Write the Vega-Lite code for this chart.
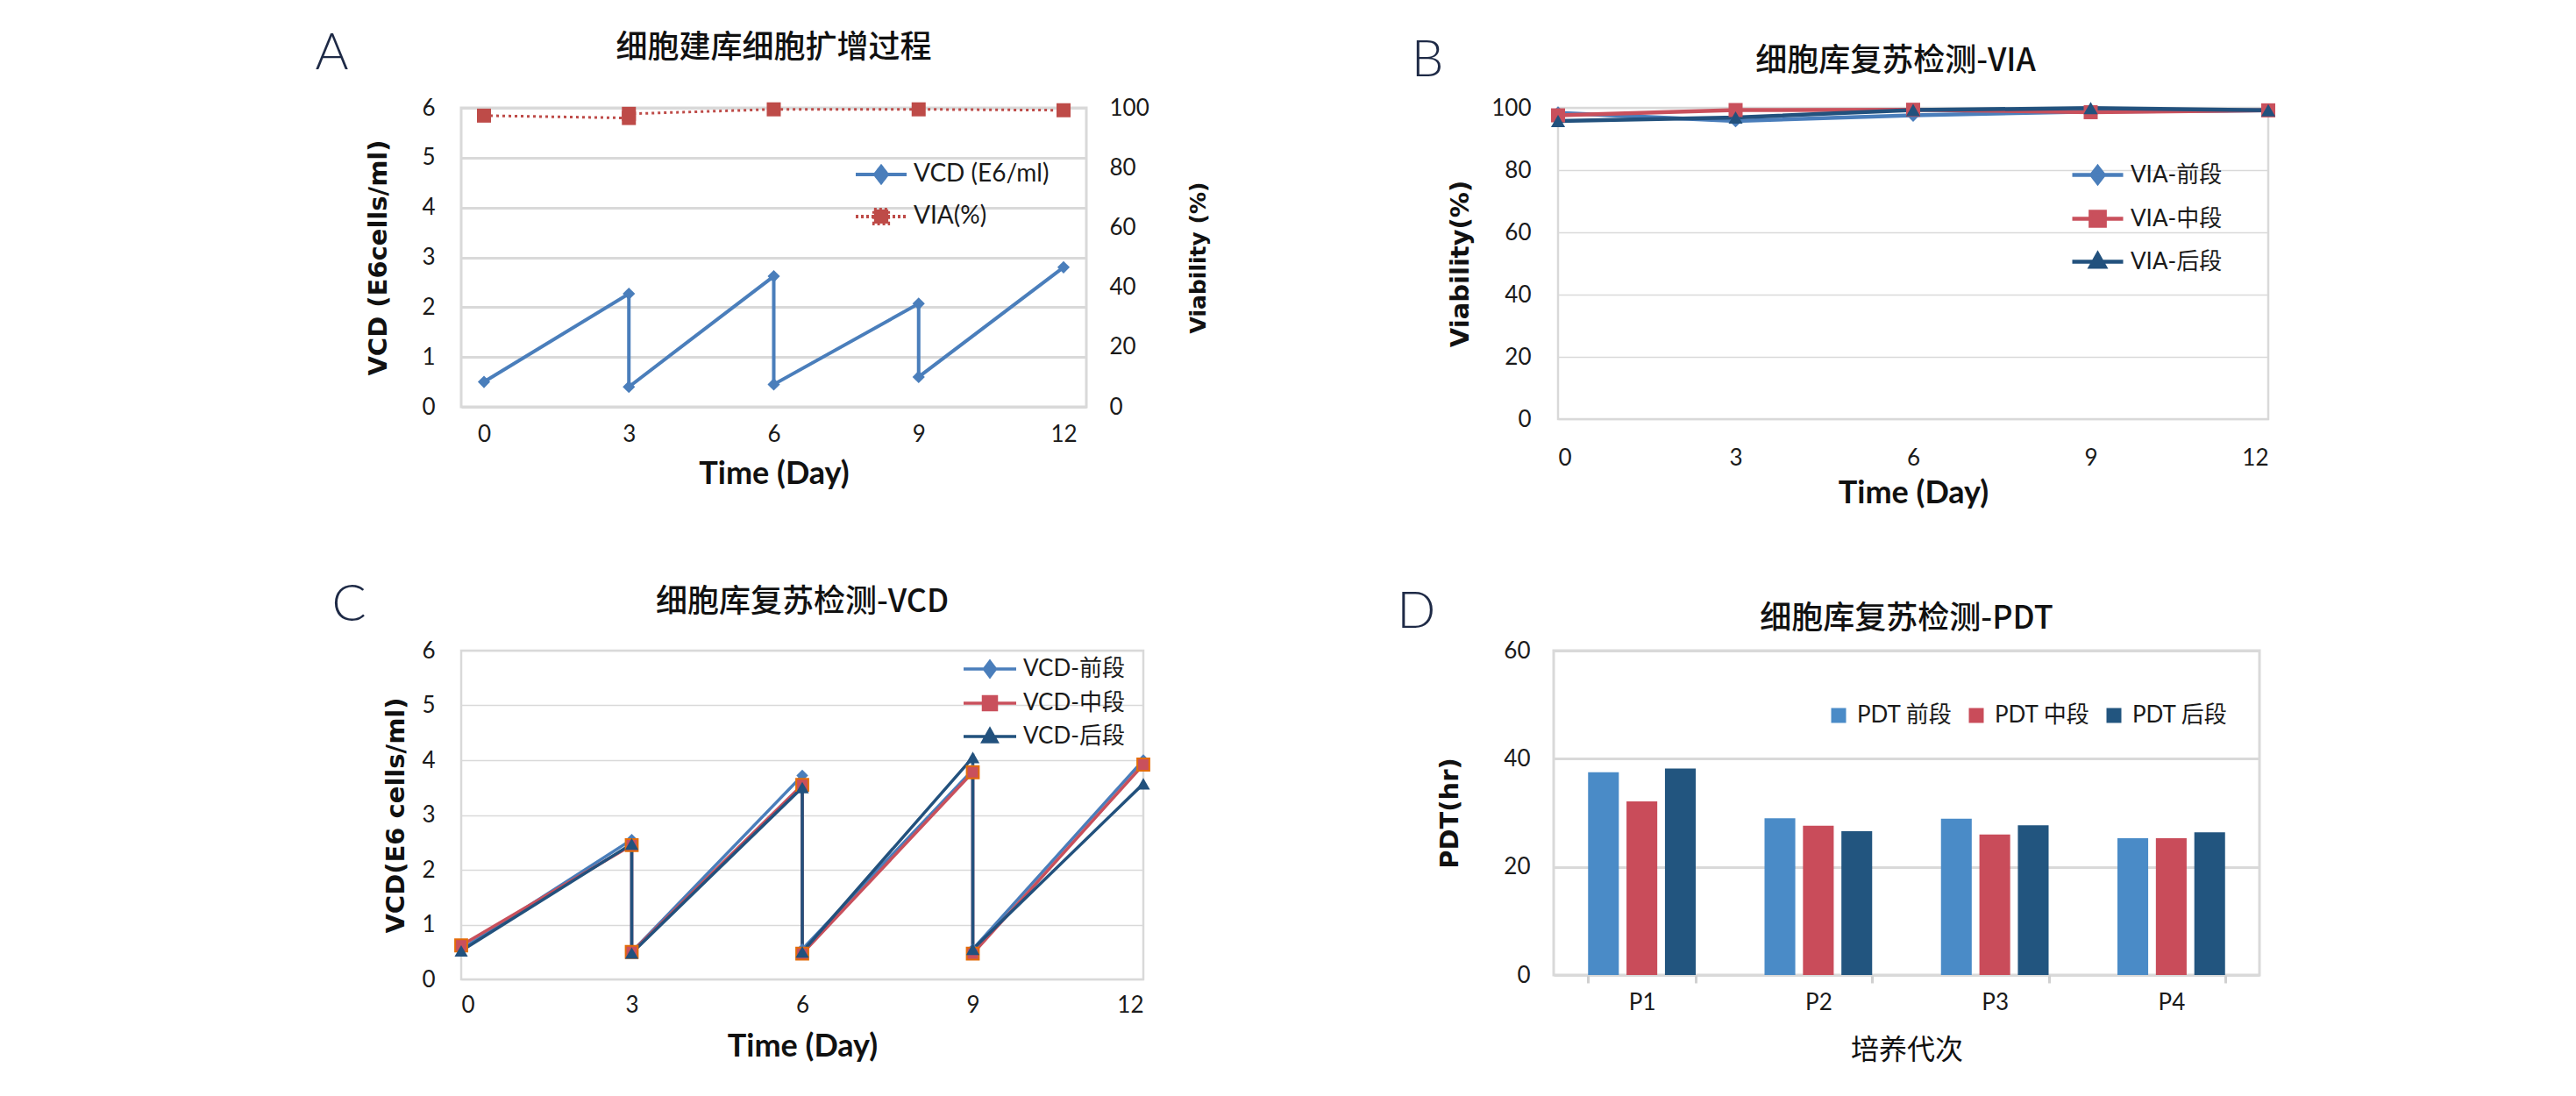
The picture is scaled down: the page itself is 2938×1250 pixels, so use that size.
{
  "$schema": "https://vega.github.io/schema/vega-lite/v6.json",
  "background": "white",
  "padding": {"left": 359, "top": 32, "right": 5, "bottom": 5},
  "config": {
    "font": "Lato, Noto Sans CJK SC",
    "view": {"stroke": "#d9d9d9", "strokeWidth": 3},
    "axis": {
      "labelFont": "Lato, Noto Sans CJK SC", "labelFontSize": 26, "labelColor": "#1a1a1a",
      "titleFont": "DejaVu Sans", "titleFontSize": 29, "titleFontWeight": "bold", "titleColor": "#111111",
      "domain": false, "ticks": false, "tickSize": 0,
      "gridColor": "#d9d9d9", "gridWidth": 3
    },
    "axisX": {"titleFont": "Lato", "titleFontSize": 36},
    "legend": {"labelFont": "Lato, Noto Sans CJK SC", "labelFontSize": 26, "labelColor": "#1a1a1a", "padding": 0},
    "title": {"font": "Noto Sans CJK SC", "fontSize": 36, "fontWeight": 500, "color": "#111111", "anchor": "middle", "frame": "group", "baseline": "bottom"}
  },
  "resolve": {"scale": {"color": "independent"}, "legend": {"color": "independent"}},
  "datasets": {
    "a": [
      {"series": "VCD (E6/ml)", "step": 1, "day": 0, "value": 0.5},
      {"series": "VCD (E6/ml)", "step": 2, "day": 3, "value": 2.27},
      {"series": "VCD (E6/ml)", "step": 3, "day": 3, "value": 0.4},
      {"series": "VCD (E6/ml)", "step": 4, "day": 6, "value": 2.62},
      {"series": "VCD (E6/ml)", "step": 5, "day": 6, "value": 0.45},
      {"series": "VCD (E6/ml)", "step": 6, "day": 9, "value": 2.07},
      {"series": "VCD (E6/ml)", "step": 7, "day": 9, "value": 0.6},
      {"series": "VCD (E6/ml)", "step": 8, "day": 12, "value": 2.8},
      {"series": "VIA(%)", "step": 1, "day": 0, "value": 97.4},
      {"series": "VIA(%)", "step": 2, "day": 3, "value": 96.6},
      {"series": "VIA(%)", "step": 3, "day": 3, "value": 98.0},
      {"series": "VIA(%)", "step": 4, "day": 6, "value": 99.5},
      {"series": "VIA(%)", "step": 5, "day": 9, "value": 99.5},
      {"series": "VIA(%)", "step": 6, "day": 12, "value": 99.2}
    ],
    "b": [
      {"series": "VIA-前段", "day": 0, "value": 98.4},
      {"series": "VIA-前段", "day": 3, "value": 95.8},
      {"series": "VIA-前段", "day": 6, "value": 97.6},
      {"series": "VIA-前段", "day": 9, "value": 98.8},
      {"series": "VIA-前段", "day": 12, "value": 99.2},
      {"series": "VIA-中段", "day": 0, "value": 97.6},
      {"series": "VIA-中段", "day": 3, "value": 99.3},
      {"series": "VIA-中段", "day": 6, "value": 99.4},
      {"series": "VIA-中段", "day": 9, "value": 98.6},
      {"series": "VIA-中段", "day": 12, "value": 99.2},
      {"series": "VIA-后段", "day": 0, "value": 95.8},
      {"series": "VIA-后段", "day": 3, "value": 96.9},
      {"series": "VIA-后段", "day": 6, "value": 99.3},
      {"series": "VIA-后段", "day": 9, "value": 99.9},
      {"series": "VIA-后段", "day": 12, "value": 99.2}
    ],
    "c": [
      {"series": "VCD-前段", "step": 1, "day": 0, "value": 0.55},
      {"series": "VCD-前段", "step": 2, "day": 3, "value": 2.55},
      {"series": "VCD-前段", "step": 3, "day": 3, "value": 0.5},
      {"series": "VCD-前段", "step": 4, "day": 6, "value": 3.72},
      {"series": "VCD-前段", "step": 5, "day": 6, "value": 0.55},
      {"series": "VCD-前段", "step": 6, "day": 9, "value": 3.82},
      {"series": "VCD-前段", "step": 7, "day": 9, "value": 0.55},
      {"series": "VCD-前段", "step": 8, "day": 12, "value": 4.0},
      {"series": "VCD-中段", "step": 1, "day": 0, "value": 0.62},
      {"series": "VCD-中段", "step": 2, "day": 3, "value": 2.45},
      {"series": "VCD-中段", "step": 3, "day": 3, "value": 0.5},
      {"series": "VCD-中段", "step": 4, "day": 6, "value": 3.55},
      {"series": "VCD-中段", "step": 5, "day": 6, "value": 0.47},
      {"series": "VCD-中段", "step": 6, "day": 9, "value": 3.78},
      {"series": "VCD-中段", "step": 7, "day": 9, "value": 0.47},
      {"series": "VCD-中段", "step": 8, "day": 12, "value": 3.92},
      {"series": "VCD-后段", "step": 1, "day": 0, "value": 0.52},
      {"series": "VCD-后段", "step": 2, "day": 3, "value": 2.47},
      {"series": "VCD-后段", "step": 3, "day": 3, "value": 0.48},
      {"series": "VCD-后段", "step": 4, "day": 6, "value": 3.5},
      {"series": "VCD-后段", "step": 5, "day": 6, "value": 0.5},
      {"series": "VCD-后段", "step": 6, "day": 9, "value": 4.05},
      {"series": "VCD-后段", "step": 7, "day": 9, "value": 0.55},
      {"series": "VCD-后段", "step": 8, "day": 12, "value": 3.57}
    ],
    "d": [
      {"passage": "P1", "series": "PDT 前段", "value": 37.5},
      {"passage": "P1", "series": "PDT 中段", "value": 32.1},
      {"passage": "P1", "series": "PDT 后段", "value": 38.2},
      {"passage": "P2", "series": "PDT 前段", "value": 29.0},
      {"passage": "P2", "series": "PDT 中段", "value": 27.6},
      {"passage": "P2", "series": "PDT 后段", "value": 26.6},
      {"passage": "P3", "series": "PDT 前段", "value": 28.9},
      {"passage": "P3", "series": "PDT 中段", "value": 26.0},
      {"passage": "P3", "series": "PDT 后段", "value": 27.7},
      {"passage": "P4", "series": "PDT 前段", "value": 25.3},
      {"passage": "P4", "series": "PDT 中段", "value": 25.3},
      {"passage": "P4", "series": "PDT 后段", "value": 26.4}
    ]
  },
  "spacing": 79,
  "vconcat": [
    {
      "spacing": 228,
      "resolve": {"scale": {"color": "independent"}, "legend": {"color": "independent"}},
      "hconcat": [
        {
          "title": {"text": "A", "font": "Lato", "fontSize": 58, "fontWeight": 300, "color": "#1e2a46", "orient": "left", "anchor": "end", "angle": 0, "align": "left", "baseline": "top", "frame": "bounds", "offset": 19, "dy": -3},
          "vconcat": [
            {
              "title": {"text": "细胞建库细胞扩增过程", "offset": 36},
              "width": 713,
              "height": 341,
              "data": {"name": "a"},
              "layer": [
                {
                  "transform": [{"filter": {"field": "series", "equal": "VCD (E6/ml)"}}],
                  "mark": {"type": "line", "strokeWidth": 4, "point": {"shape": "diamond", "size": 200, "filled": true, "opacity": 1}},
                  "encoding": {
                    "x": {"field": "day", "type": "quantitative", "scale": {"domain": [0, 12], "nice": false, "zero": false, "padding": 26},
                      "axis": {"values": [0, 3, 6, 9, 12], "grid": false, "title": "Time (Day)", "labelPadding": 18, "titlePadding": 15}},
                    "y": {"field": "value", "type": "quantitative", "scale": {"domain": [0, 6], "nice": false},
                      "axis": {"values": [0, 1, 2, 3, 4, 5, 6], "title": "VCD (E6cells/ml)", "labelPadding": 30, "titlePadding": 34}},
                    "color": {"field": "series", "type": "nominal",
                      "scale": {"domain": ["VCD (E6/ml)", "VIA(%)"], "range": ["#4a7ebb", "#be4b48"]},
                      "legend": {
                        "title": null, "orient": "none", "legendX": 448, "legendY": 45,
                        "symbolType": "M-1,0H1", "symbolSize": 3364, "symbolStrokeWidth": 4,
                        "labelFontSize": 28, "labelOffset": 6, "rowPadding": -15,
                        "encode": {"symbols": {"update": {
                          "shape": {"signal": "datum.value === 'VIA(%)' ? 'M-1,0H1M-0.28,-0.28H0.28V0.28H-0.28Z' : 'M-1,0H1M0,-0.31L0.24,0L0,0.31L-0.24,0Z'"},
                          "fill": {"signal": "datum.value === 'VIA(%)' ? '#be4b48' : '#4a7ebb'"},
                          "stroke": {"signal": "datum.value === 'VIA(%)' ? '#be4b48' : '#4a7ebb'"},
                          "strokeDash": {"signal": "datum.value === 'VIA(%)' ? [3, 3] : [1, 0]"}
                        }}}
                      }},
                    "order": {"field": "step", "type": "quantitative"}
                  }
                },
                {
                  "transform": [{"filter": {"field": "series", "equal": "VIA(%)"}}],
                  "mark": {"type": "line", "strokeWidth": 3, "strokeDash": [3, 4], "point": {"shape": "square", "size": 256, "filled": true, "opacity": 1}},
                  "encoding": {
                    "x": {"field": "day", "type": "quantitative"},
                    "y": {"field": "value", "type": "quantitative", "scale": {"domain": [0, 100], "nice": false},
                      "axis": {"orient": "right", "values": [0, 20, 40, 60, 80, 100], "grid": false, "title": "Viability (%)", "titleFontSize": 25, "titleAngle": 270, "titleBaseline": "top", "labelPadding": 26, "titlePadding": 44}},
                    "color": {"field": "series", "type": "nominal"},
                    "order": {"field": "step", "type": "quantitative"}
                  }
                }
              ],
              "resolve": {"scale": {"y": "independent"}}
            }
          ]
        },
        {
          "title": {"text": "B", "font": "Lato", "fontSize": 58, "fontWeight": 300, "color": "#1e2a46", "orient": "left", "anchor": "end", "angle": 0, "align": "left", "baseline": "top", "frame": "bounds", "offset": 4, "dy": -10},
          "vconcat": [
            {
              "title": {"text": "细胞库复苏检测-VIA", "offset": 21, "dx": -20},
              "width": 810,
              "height": 355,
              "view": {"stroke": "#d9d9d9", "strokeWidth": 2.5},
              "data": {"name": "b"},
              "encoding": {
                "x": {"field": "day", "type": "quantitative", "scale": {"domain": [0, 12], "nice": false},
                  "axis": {"values": [0, 3, 6, 9, 12], "grid": false, "title": "Time (Day)", "labelPadding": 31, "titlePadding": 10}},
                "y": {"field": "value", "type": "quantitative", "scale": {"domain": [0, 100], "nice": false},
                  "axis": {"values": [0, 20, 40, 60, 80, 100], "gridWidth": 1.5, "title": "Viability(%)", "labelPadding": 31, "titlePadding": 20}},
                "color": {"field": "series", "type": "nominal",
                  "scale": {"domain": ["VIA-前段", "VIA-中段", "VIA-后段"], "range": ["#4a7ebb", "#c9505c", "#22517d"]}}
              },
              "layer": [
                {
                  "mark": {"type": "line", "strokeWidth": 4.5},
                  "encoding": {
                    "color": {"field": "series", "type": "nominal",
                      "legend": {
                        "title": null, "orient": "none", "legendX": 584, "legendY": 45,
                        "symbolType": "M-1,0H1", "symbolSize": 3364, "symbolStrokeWidth": 4.5,
                        "labelFontSize": 26, "labelOffset": 6, "rowPadding": -12,
                        "encode": {"symbols": {"update": {
                          "shape": {"signal": "datum.value === 'VIA-前段' ? 'M-1,0H1M0,-0.31L0.24,0L0,0.31L-0.24,0Z' : datum.value === 'VIA-中段' ? 'M-1,0H1M-0.28,-0.28H0.28V0.28H-0.28Z' : 'M-1,0H1M0,-0.3L0.28,0.2H-0.28Z'"},
                          "fill": {"signal": "datum.value === 'VIA-前段' ? '#4a7ebb' : datum.value === 'VIA-中段' ? '#c9505c' : '#22517d'"},
                          "stroke": {"signal": "datum.value === 'VIA-前段' ? '#4a7ebb' : datum.value === 'VIA-中段' ? '#c9505c' : '#22517d'"}
                        }}}
                      }}
                  }
                },
                {
                  "transform": [{"filter": {"field": "series", "equal": "VIA-前段"}}],
                  "mark": {"type": "point", "shape": "diamond", "filled": true, "opacity": 1, "size": 220, "color": "#4a7ebb"}
                },
                {
                  "transform": [{"filter": {"field": "series", "equal": "VIA-中段"}}],
                  "mark": {"type": "point", "shape": "square", "filled": true, "opacity": 1, "size": 256, "color": "#c9505c"}
                },
                {
                  "transform": [{"filter": {"field": "series", "equal": "VIA-后段"}}],
                  "mark": {"type": "point", "shape": "triangle-up", "filled": true, "opacity": 1, "size": 260, "color": "#22517d"}
                }
              ]
            }
          ]
        }
      ]
    },
    {
      "spacing": 276,
      "resolve": {"scale": {"color": "independent"}, "legend": {"color": "independent"}},
      "hconcat": [
        {
          "title": {"text": "C", "font": "Lato", "fontSize": 58, "fontWeight": 300, "color": "#1e2a46", "orient": "left", "anchor": "end", "angle": 0, "align": "left", "baseline": "top", "frame": "bounds", "offset": 19, "dy": -6},
          "vconcat": [
            {
              "title": {"text": "细胞库复苏检测-VCD", "offset": 23},
              "width": 778,
              "height": 375,
              "view": {"stroke": "#d9d9d9", "strokeWidth": 2.5},
              "data": {"name": "c"},
              "encoding": {
                "x": {"field": "day", "type": "quantitative", "scale": {"domain": [0, 12], "nice": false},
                  "axis": {"values": [0, 3, 6, 9, 12], "grid": false, "title": "Time (Day)", "labelPadding": 16, "titlePadding": 17}},
                "y": {"field": "value", "type": "quantitative", "scale": {"domain": [0, 6], "nice": false},
                  "axis": {"values": [0, 1, 2, 3, 4, 5, 6], "gridWidth": 1.5, "title": "VCD(E6 cells/ml)", "labelPadding": 30, "titlePadding": 14}},
                "order": {"field": "step", "type": "quantitative"}
              },
              "layer": [
                {
                  "mark": {"type": "line", "strokeWidth": 3.5},
                  "encoding": {
                    "color": {"field": "series", "type": "nominal",
                      "scale": {"domain": ["VCD-前段", "VCD-中段", "VCD-后段"], "range": ["#4a7ebb", "#c9505c", "#22517d"]},
                      "legend": {
                        "title": null, "orient": "none", "legendX": 586, "legendY": 4,
                        "symbolType": "M-2,0H2", "symbolSize": 900, "symbolStrokeWidth": 3.5,
                        "labelFontSize": 26, "labelOffset": 21, "rowPadding": 6,
                        "encode": {"symbols": {"update": {
                          "shape": {"signal": "datum.value === 'VCD-前段' ? 'M-2,0H2M0,-0.57L0.43,0L0,0.57L-0.43,0Z' : datum.value === 'VCD-中段' ? 'M-2,0H2M-0.5,-0.5H0.5V0.5H-0.5Z' : 'M-2,0H2M0,-0.55L0.53,0.4H-0.53Z'"},
                          "fill": {"signal": "datum.value === 'VCD-前段' ? '#4a7ebb' : datum.value === 'VCD-中段' ? '#c9505c' : '#22517d'"},
                          "stroke": {"signal": "datum.value === 'VCD-前段' ? '#4a7ebb' : datum.value === 'VCD-中段' ? '#c9505c' : '#22517d'"}
                        }}}
                      }}
                  }
                },
                {
                  "transform": [{"filter": {"field": "series", "equal": "VCD-前段"}}],
                  "mark": {"type": "point", "shape": "diamond", "filled": true, "opacity": 1, "size": 180, "color": "#4a7ebb"}
                },
                {
                  "transform": [{"filter": {"field": "series", "equal": "VCD-中段"}}],
                  "mark": {"type": "point", "shape": "square", "filled": true, "opacity": 1, "size": 190, "fill": "#c9505c", "stroke": "#e46c0a", "strokeWidth": 2}
                },
                {
                  "transform": [{"filter": {"field": "series", "equal": "VCD-后段"}}],
                  "mark": {"type": "point", "shape": "triangle-up", "filled": true, "opacity": 1, "size": 230, "color": "#22517d"}
                }
              ]
            }
          ]
        },
        {
          "title": {"text": "D", "font": "Lato", "fontSize": 58, "fontWeight": 300, "color": "#1e2a46", "orient": "left", "anchor": "end", "angle": 0, "align": "left", "baseline": "top", "frame": "bounds", "offset": 1, "dy": -17},
          "vconcat": [
            {
              "title": {"text": "细胞库复苏检测-PDT", "offset": 4},
              "width": 805,
              "height": 370,
              "data": {"name": "d"},
              "mark": {"type": "bar"},
              "encoding": {
                "x": {"field": "passage", "type": "nominal", "scale": {"paddingInner": 0.39, "paddingOuter": 0.195},
                  "axis": {"title": "培养代次", "titleFont": "Noto Sans CJK SC", "titleFontWeight": "normal", "titleFontSize": 32, "labelAngle": 0,
                    "ticks": true, "tickBand": "extent", "tickSize": 9, "tickColor": "#d0d0d0", "tickWidth": 3, "labelPadding": 9, "titlePadding": 26}},
                "xOffset": {"field": "series", "type": "nominal", "scale": {"domain": ["PDT 前段", "PDT 中段", "PDT 后段"], "paddingInner": 0.2, "paddingOuter": 0}},
                "y": {"field": "value", "type": "quantitative", "scale": {"domain": [0, 60], "nice": false},
                  "axis": {"values": [0, 20, 40, 60], "title": "PDT(hr)", "labelPadding": 27, "titlePadding": 46}},
                "color": {"field": "series", "type": "nominal",
                  "scale": {"domain": ["PDT 前段", "PDT 中段", "PDT 后段"], "range": ["#4a8bc7", "#c94c5a", "#22557f"]},
                  "legend": {
                    "title": null, "orient": "none", "legendX": 312, "legendY": 61, "direction": "horizontal", "columns": 3,
                    "symbolType": "square", "symbolSize": 289, "symbolStrokeWidth": 0, "symbolOpacity": 1,
                    "labelFontSize": 26, "labelOffset": 8, "columnPadding": 14
                  }}
              }
            }
          ]
        }
      ]
    }
  ]
}
